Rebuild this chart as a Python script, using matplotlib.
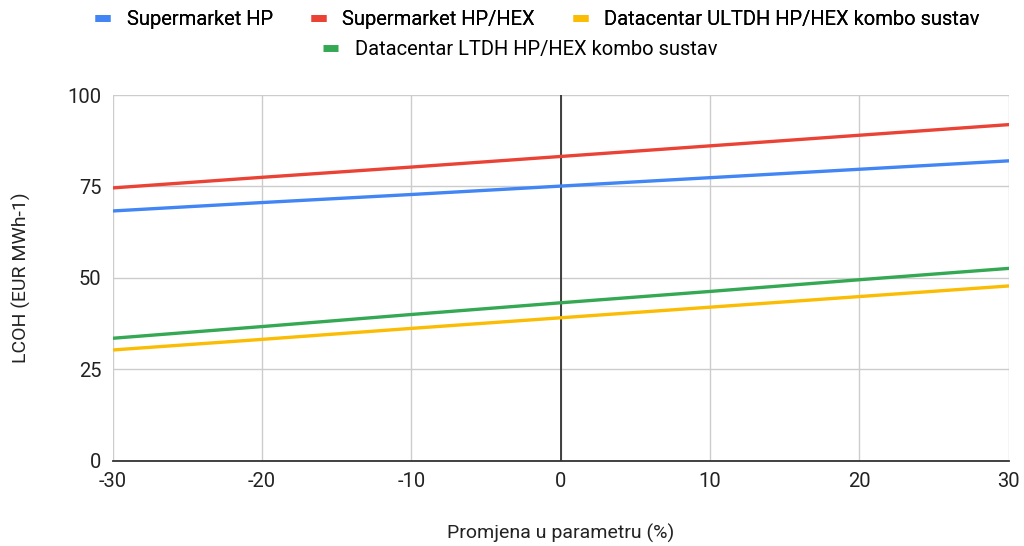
import matplotlib
matplotlib.use("Agg")
import matplotlib.pyplot as plt
from matplotlib.lines import Line2D

x = [-30, -20, -10, 0, 10, 20, 30]
supermarket_hp = [68.3, 70.6, 72.8, 75.1, 77.4, 79.7, 82.0]
supermarket_hp_hex = [74.6, 77.5, 80.3, 83.2, 86.1, 89.0, 91.9]
dc_ultdh = [30.3, 33.2, 36.2, 39.1, 42.0, 44.9, 47.8]
dc_ltdh = [33.5, 36.7, 40.0, 43.2, 46.3, 49.5, 52.6]

names = ["Supermarket HP", "Supermarket HP/HEX",
         "Datacentar ULTDH HP/HEX kombo sustav", "Datacentar LTDH HP/HEX kombo sustav"]
colors = ["#4285F4", "#EA4335", "#FBBC04", "#34A853"]
series = [supermarket_hp, supermarket_hp_hex, dc_ultdh, dc_ltdh]

plt.rcParams['font.family'] = ['Roboto', 'DejaVu Sans']
plt.rcParams['axes.unicode_minus'] = False

fig = plt.figure(figsize=(10.24, 5.46), dpi=100)
ax = fig.add_axes([0.110, 0.156, 0.875, 0.670])

for s, c, n in zip(series, colors, names):
    ax.plot(x, s, color=c, lw=2.4, label=n, zorder=3)

ax.axvline(0, color="#333333", lw=1.3, zorder=2)
ax.set_xlim(-30, 30)
ax.set_ylim(0, 100)
ax.set_xticks([-30, -20, -10, 0, 10, 20, 30])
ax.set_yticks([0, 25, 50, 75, 100])
ax.grid(True, color="#cccccc", lw=1)
ax.set_axisbelow(True)
for sp in ["top", "left", "right"]:
    ax.spines[sp].set_visible(False)
ax.spines["bottom"].set_color("#333333")
ax.spines["bottom"].set_linewidth(1.3)
ax.tick_params(length=0, labelsize=14.5, colors="#222222", pad=8)

ax.set_xlabel("Promjena u parametru (%)", fontsize=14, color="#222222", labelpad=24)
ax.set_ylabel("LCOH (EUR MWh-1)", fontsize=14, color="#222222", labelpad=26)

handles = [Line2D([0], [0], color=c, lw=5, solid_capstyle="butt") for c in colors]
leg1 = fig.legend(handles[:3], names[:3], loc="center", bbox_to_anchor=(0.525, 0.965),
                  ncol=3, frameon=False, fontsize=14.5, handlelength=0.75,
                  columnspacing=1.9, handletextpad=0.8)
leg2 = fig.legend(handles[3:], names[3:], loc="center", bbox_to_anchor=(0.508, 0.91),
                  ncol=1, frameon=False, fontsize=14.5, handlelength=0.75,
                  handletextpad=0.8)
fig.add_artist(leg1)

fig.savefig("out.png", dpi=100)
